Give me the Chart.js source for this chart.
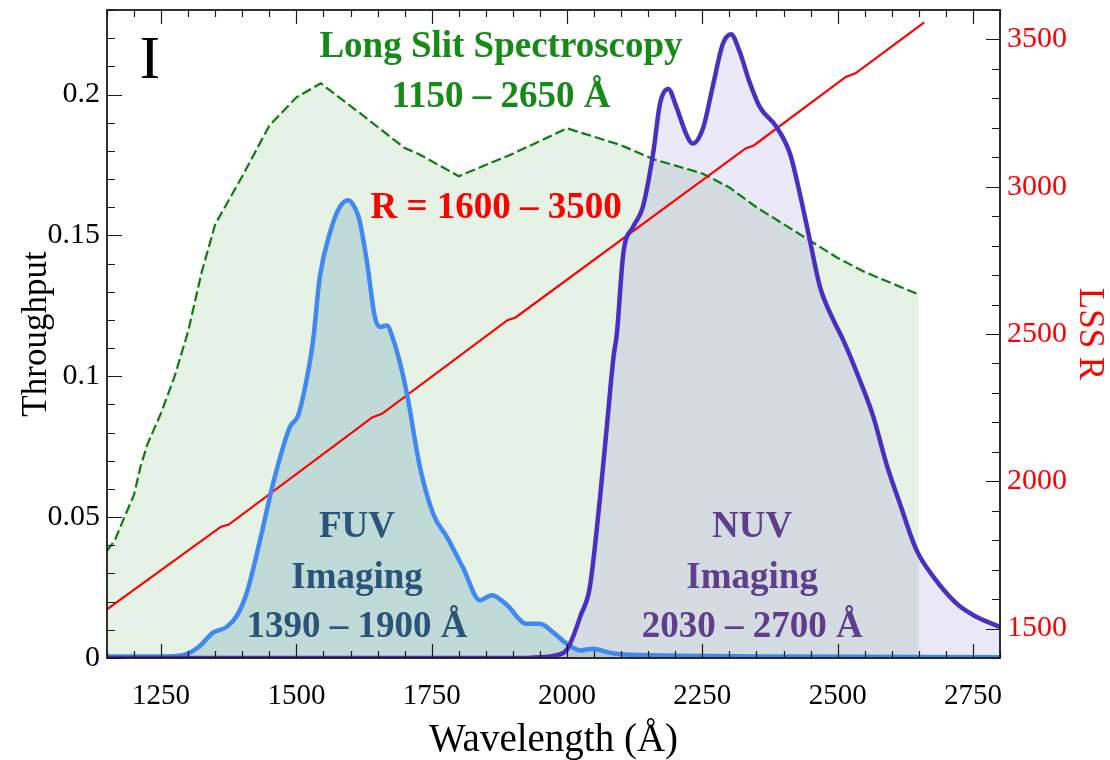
<!DOCTYPE html>
<html>
<head>
<meta charset="utf-8">
<title>Throughput</title>
<script src="https://cdn.jsdelivr.net/npm/chart.js@4.4.1/dist/chart.umd.min.js"></script>
<style>
  html, body { margin: 0; padding: 0; background: #fff; }
  #chart { display: block; }
</style>
</head>
<body>
<canvas id="chart" width="1110" height="760"></canvas>
<script>
// Long slit spectroscopy throughput (green dashed)
const lssWave = [1150, 1165, 1180, 1200, 1212, 1225, 1250, 1275, 1300, 1325, 1350, 1400, 1450, 1500, 1545,
    1620, 1700, 1725, 1800, 1900, 2000, 2100, 2160, 2250, 2300, 2350, 2400, 2450, 2500, 2550, 2600, 2650];
const lssThroughput = [0.038, 0.042, 0.049, 0.058, 0.068, 0.076, 0.087, 0.100, 0.116, 0.137, 0.154, 0.171, 0.189, 0.199, 0.204,
    0.193, 0.181, 0.179, 0.171, 0.179, 0.188, 0.182, 0.177, 0.172, 0.167, 0.160, 0.154, 0.148, 0.142, 0.137, 0.133, 0.129];

// FUV imaging throughput (blue)
const fuvWave = [1150, 1250, 1290, 1320, 1346, 1371, 1390, 1408, 1433, 1457, 1488, 1503, 1519, 1531, 1543, 1562, 1580,
    1596, 1610, 1617, 1630, 1645, 1654, 1667, 1679, 1691, 1704, 1728, 1753, 1778, 1808, 1839, 1861, 1888, 1925, 1950,
    1975, 2000, 2025, 2048, 2075, 2100, 2200, 2400, 2800];
const fuvThroughput = [0.0005, 0.0005, 0.001, 0.004, 0.009, 0.011, 0.015, 0.023, 0.042, 0.062, 0.082, 0.086, 0.099, 0.113, 0.135, 0.151, 0.160,
    0.1625, 0.159, 0.155, 0.141, 0.121, 0.1175, 0.118, 0.113, 0.105, 0.094, 0.068, 0.051, 0.043, 0.032, 0.0205, 0.0223, 0.019, 0.0122, 0.0122,
    0.009, 0.005, 0.0027, 0.0033, 0.002, 0.0013, 0.0008, 0.0005, 0.0003];

// NUV imaging throughput (purple)
const nuvWave = [1150, 1900, 1950, 1981, 2000, 2011, 2025, 2042, 2061, 2073, 2086, 2092, 2104, 2122, 2140, 2159, 2172,
    2187, 2202, 2221, 2232, 2252, 2269, 2288, 2303, 2318, 2338, 2356, 2387, 2412, 2430, 2449, 2467, 2492, 2510,
    2541, 2566, 2590, 2615, 2646, 2677, 2720, 2751, 2800];
const nuvThroughput = [0, 0, 0.0003, 0.001, 0.003, 0.0075, 0.015, 0.025, 0.057, 0.081, 0.107, 0.115, 0.1436, 0.153, 0.160, 0.179, 0.197,
    0.202, 0.1956, 0.1856, 0.1826, 0.1885, 0.2027, 0.218, 0.2214, 0.2157, 0.204, 0.1956, 0.1885, 0.179, 0.165, 0.148, 0.132, 0.120, 0.113,
    0.0986, 0.0856, 0.069, 0.0548, 0.0382, 0.0288, 0.0193, 0.0152, 0.011];

// LSS resolving power (red, right axis)
const rWave = [1150, 1360, 1375, 1640, 1658, 1890, 1905, 2330, 2345, 2515, 2533, 2660];
const rValue = [1565, 1845, 1853, 2217, 2229, 2547, 2556, 3130, 3140, 3373, 3385, 3558];

const xTicks = [1250, 1500, 1750, 2000, 2250, 2500, 2750];
const yTicks = [0, 0.05, 0.1, 0.15, 0.2];
const rTicks = [1500, 2000, 2500, 3000, 3500];

const serif = '"Liberation Serif", "Times New Roman", serif';

function toPoints(xs, ys) {
    return xs.map((x, i) => ({ x: x, y: ys[i] }));
}

// text drawn inside the plot, placed in data coordinates
const notes = [
    { text: 'I', x: 1229, y: 0.2115, color: '#000', font: 'normal 62px ' + serif },
    { text: 'Long Slit Spectroscopy', x: 1878, y: 0.2166, color: '#168a16', font: 'bold 37px ' + serif },
    { text: '1150 \u2013 2650 \u00c5', x: 1878, y: 0.199, color: '#168a16', font: 'bold 37px ' + serif },
    { text: 'R = 1600 \u2013 3500', x: 1869, y: 0.1595, color: '#ff0000', font: 'bold 37px ' + serif },
    { text: 'FUV', x: 1612, y: 0.0464, color: '#2a5478', font: 'bold 37px ' + serif },
    { text: 'Imaging', x: 1612, y: 0.0283, color: '#2a5478', font: 'bold 37px ' + serif },
    { text: '1390 \u2013 1900 \u00c5', x: 1612, y: 0.0109, color: '#2a5478', font: 'bold 37px ' + serif },
    { text: 'NUV', x: 2342, y: 0.0464, color: '#5f3f8c', font: 'bold 37px ' + serif },
    { text: 'Imaging', x: 2342, y: 0.0283, color: '#5f3f8c', font: 'bold 37px ' + serif },
    { text: '2030 \u2013 2700 \u00c5', x: 2342, y: 0.0109, color: '#5f3f8c', font: 'bold 37px ' + serif }
];

const notesPlugin = {
    id: 'notes',
    afterDatasetsDraw(chart) {
        const ctx = chart.ctx;
        const xs = chart.scales.x, ys = chart.scales.y;
        ctx.save();
        ctx.textAlign = 'center';
        ctx.textBaseline = 'middle';
        notes.forEach(n => {
            ctx.font = n.font;
            ctx.fillStyle = n.color;
            ctx.fillText(n.text, xs.getPixelForValue(n.x), ys.getPixelForValue(n.y));
        });
        ctx.restore();
    }
};

// frame and inward tick marks (major + minor)
const framePlugin = {
    id: 'frame',
    afterDraw(chart) {
        const { ctx, chartArea: a } = chart;
        const xs = chart.scales.x, ys = chart.scales.y, rs = chart.scales.y2;
        ctx.save();
        ctx.strokeStyle = '#1a1a1a';
        ctx.lineWidth = 1.2;
        ctx.beginPath();
        for (let v = 1150; v <= 2800; v += 50) {
            const px = Math.round(xs.getPixelForValue(v)) + 0.5;
            const len = v % 250 === 0 ? 14 : 7;
            ctx.moveTo(px, a.bottom); ctx.lineTo(px, a.bottom - len);
            ctx.moveTo(px, a.top); ctx.lineTo(px, a.top + len);
        }
        for (let i = 0; i <= 23; i++) {
            const py = Math.round(ys.getPixelForValue(i / 100)) + 0.5;
            const len = i % 5 === 0 ? 15 : 8;
            ctx.moveTo(a.left, py); ctx.lineTo(a.left + len, py);
        }
        for (let v = 1400; v <= 3600; v += 100) {
            const py = Math.round(rs.getPixelForValue(v)) + 0.5;
            const len = v % 500 === 0 ? 14 : 8;
            ctx.moveTo(a.right, py); ctx.lineTo(a.right - len, py);
        }
        ctx.stroke();
        ctx.lineWidth = 1.8;
        ctx.strokeRect(a.left, a.top, a.right - a.left, a.bottom - a.top);
        ctx.restore();
    }
};

function fixWidth(w) {
    return s => { s.width = w; s.paddingTop = 0; s.paddingBottom = 0; };
}

new Chart(document.getElementById('chart'), {
    type: 'line',
    data: {
        datasets: [
            {
                label: 'LSS',
                data: toPoints(lssWave, lssThroughput),
                borderColor: 'rgb(10,125,10)',
                borderWidth: 2.2,
                borderDash: [10, 4],
                backgroundColor: 'rgba(0,128,0,0.1)',
                fill: 'origin',
                pointRadius: 0,
                tension: 0,
                order: 4
            },
            {
                label: 'R',
                data: toPoints(rWave, rValue),
                yAxisID: 'y2',
                borderColor: '#ff0000',
                borderWidth: 2.2,
                fill: false,
                pointRadius: 0,
                tension: 0,
                order: 3
            },
            {
                label: 'FUV',
                data: toPoints(fuvWave, fuvThroughput),
                borderColor: '#4189f0',
                borderWidth: 4.5,
                backgroundColor: 'rgba(40,120,160,0.2)',
                fill: 'origin',
                pointRadius: 0,
                cubicInterpolationMode: 'monotone',
                order: 2
            },
            {
                label: 'NUV',
                data: toPoints(nuvWave, nuvThroughput),
                borderColor: '#4a30c0',
                borderWidth: 4.5,
                backgroundColor: 'rgba(75,47,192,0.11)',
                fill: 'origin',
                pointRadius: 0,
                cubicInterpolationMode: 'monotone',
                order: 1
            }
        ]
    },
    options: {
        responsive: false,
        animation: false,
        devicePixelRatio: 1,
        layout: { padding: { top: 10, left: 0, right: 0, bottom: 0 } },
        plugins: {
            legend: { display: false },
            tooltip: { enabled: false },
            filler: { drawTime: 'beforeDatasetsDraw' }
        },
        scales: {
            x: {
                type: 'linear',
                position: 'bottom',
                min: 1150,
                max: 2800,
                afterBuildTicks: s => { s.ticks = xTicks.map(v => ({ value: v })); },
                afterFit: s => { s.height = 102; s.paddingLeft = 0; s.paddingRight = 0; },
                grid: { display: false, drawTicks: false },
                border: { display: false },
                ticks: {
                    padding: 21,
                    color: '#000',
                    maxRotation: 0,
                    font: { family: serif, size: 29 },
                    callback: v => String(v)
                },
                title: {
                    display: true,
                    text: 'Wavelength (\u00c5)',
                    color: '#000',
                    padding: { top: 0, bottom: 0 },
                    font: { family: serif, size: 39, lineHeight: 1 }
                }
            },
            y: {
                type: 'linear',
                position: 'left',
                min: 0,
                max: 0.23,
                afterBuildTicks: s => { s.ticks = yTicks.map(v => ({ value: v })); },
                afterFit: fixWidth(107),
                grid: { display: false, drawTicks: false },
                border: { display: false },
                ticks: {
                    padding: 7,
                    color: '#000',
                    font: { family: serif, size: 30 },
                    callback: v => String(v)
                },
                title: {
                    display: true,
                    text: 'Throughput',
                    color: '#000',
                    padding: { top: 16, bottom: 0 },
                    font: { family: serif, size: 35 }
                }
            },
            y2: {
                type: 'linear',
                position: 'right',
                min: 1400,
                max: 3600,
                afterBuildTicks: s => { s.ticks = rTicks.map(v => ({ value: v })); },
                afterFit: fixWidth(110),
                grid: { display: false, drawTicks: false },
                border: { display: false },
                ticks: {
                    padding: 7,
                    color: '#ff0000',
                    font: { family: serif, size: 30 },
                    callback: v => String(v)
                },
                title: {
                    display: true,
                    text: 'LSS R',
                    color: '#ff0000',
                    padding: { top: 0, bottom: 0 },
                    font: { family: serif, size: 35 }
                }
            }
        }
    },
    plugins: [notesPlugin, framePlugin]
});
</script>
</body>
</html>
